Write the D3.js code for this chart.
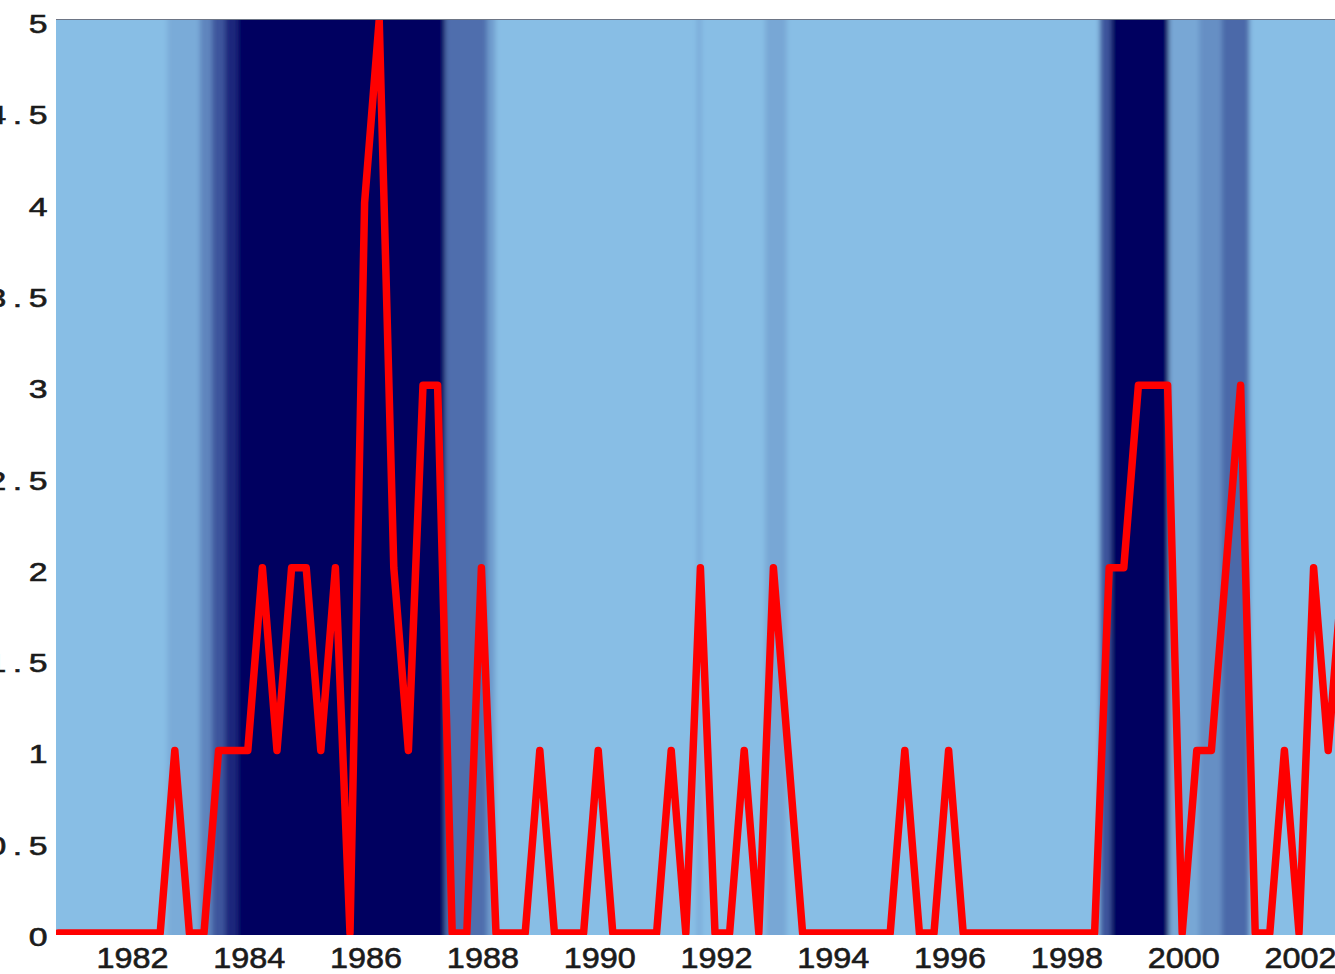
<!DOCTYPE html>
<html>
<head>
<meta charset="utf-8">
<script src="https://cdn.jsdelivr.net/npm/d3@7"></script>
<style>
  html, body { margin: 0; padding: 0; background: #ffffff; }
  svg { display: block; }
</style>
</head>
<body>
<svg id="chart" width="1335" height="974"></svg>
<script>
// ---- Data ----
// quarterly counts starting at the 4th quarter of 1980
const startQuarter = 1980.75;
const counts = [
  0,0,0,0,0,0,0,0,1,0,
  0,1,1,1,2,1,2,2,1,2,
  0,4,5,2,1,3,3,0,0,2,
  0,0,0,1,0,0,0,1,0,0,
  0,0,1,0,2,0,0,1,0,2,
  1,0,0,0,0,0,0,0,1,0,
  0,1,0,0,0,0,0,0,0,0,
  0,0,2,2,3,3,3,0,1,1,
  2,3,0,0,1,0,2,1,2
];
// background regime shading bands (years) and intensity level (0 = light, 1 = dark)
const bandStart = [1982.62, 1983.18, 1983.39, 1983.61, 1983.83, 1987.38, 1988.10, 1991.69, 1992.86, 1998.59, 1998.78, 1999.77, 2000.29, 2000.68];
const bandEnd   = [1983.18, 1983.39, 1983.61, 1983.83, 1987.38, 1988.10, 1988.23, 1991.76, 1993.22, 1998.78, 1999.77, 2000.29, 2000.68, 2001.14];
const bandLevel = [0.10,    0.30,    0.55,    0.80,    1.00,    0.42,    0.18,    0.10,    0.12,    0.55,    1.00,    0.12,    0.25,    0.45];
const xTickYears = [1982, 1984, 1986, 1988, 1990, 1992, 1994, 1996, 1998, 2000, 2002];
const yTickValues = [0, 0.5, 1, 1.5, 2, 2.5, 3, 3.5, 4, 4.5, 5];

// ---- Layout ----
const plot = { left: 56, top: 20, bottom: 935, right: 1345 };
const svg = d3.select("#chart");

const x = d3.scaleLinear().domain([1982, 2002]).range([131, 1299]);
const y = d3.scaleLinear().domain([0, 5]).range([933, 20]);
const lightColor = "#88bee5", darkColor = "#000060";
const color = d3.scaleLinear().domain([0, 1]).range([lightColor, darkColor]).interpolate(d3.interpolateRgb);

const defs = svg.append("defs");
defs.append("clipPath").attr("id", "plotClip")
  .append("rect")
  .attr("x", plot.left).attr("y", plot.top)
  .attr("width", plot.right - plot.left).attr("height", plot.bottom - plot.top);
const blur = defs.append("filter").attr("id", "hblur")
  .attr("x", "-5%").attr("y", "0%").attr("width", "110%").attr("height", "100%");
blur.append("feGaussianBlur").attr("stdDeviation", "2.5 0");

// ---- Background shading ----
const bgOuter = svg.append("g").attr("clip-path", "url(#plotClip)");
const bg = bgOuter.append("g").attr("filter", "url(#hblur)");
bg.append("rect")
  .attr("x", plot.left - 30).attr("y", plot.top)
  .attr("width", plot.right - plot.left + 60).attr("height", plot.bottom - plot.top)
  .attr("fill", lightColor);
bg.selectAll("rect.band")
  .data(bandLevel.map((v, i) => ({ s: bandStart[i], e: bandEnd[i], v })))
  .join("rect")
  .attr("class", "band")
  .attr("x", d => x(d.s))
  .attr("y", plot.top)
  .attr("width", d => x(d.e) - x(d.s) + 0.5)
  .attr("height", plot.bottom - plot.top)
  .attr("fill", d => color(d.v));

// ---- Red line ----
const series = counts.map((v, i) => ({ t: startQuarter + i / 4, v }));
const line = d3.line().x(d => x(d.t)).y(d => y(d.v));
svg.append("g").attr("clip-path", "url(#plotClip)")
  .append("path")
  .datum(series)
  .attr("d", line)
  .attr("fill", "none")
  .attr("stroke", "#ff0000")
  .attr("stroke-width", 7.5)
  .attr("stroke-linejoin", "round")
  .attr("stroke-linecap", "round");

// ---- Axes frame ----
svg.append("line")
  .attr("x1", plot.left).attr("x2", plot.right)
  .attr("y1", plot.top - 0.5).attr("y2", plot.top - 0.5)
  .attr("stroke", "#6d7585").attr("stroke-width", 1.2);

const fontFam = "'Liberation Sans', Arial, Helvetica, sans-serif";

// ---- X tick labels ----
const xAxis = d3.axisBottom(x).tickValues(xTickYears).tickFormat(d3.format("d")).tickSize(0).tickPadding(0);
const gx = svg.append("g").attr("transform", `translate(0,${plot.bottom})`).call(xAxis);
gx.select(".domain").remove();
gx.selectAll("text")
  .attr("y", 0).attr("dy", null)
  .attr("transform", "translate(1,33) scale(1.08,1)")
  .attr("fill", "#1b1b1b")
  .attr("stroke", "#1b1b1b").attr("stroke-width", 0.6)
  .attr("font-family", fontFam)
  .attr("font-size", 30);

// ---- Y tick labels ----
const yAxis = d3.axisLeft(y).tickValues(yTickValues).tickFormat(d => d3.format("")(d)).tickSize(0).tickPadding(0);
const gy = svg.append("g").call(yAxis);
gy.select(".domain").remove();
gy.selectAll(".tick text")
  .attr("x", 0).attr("dy", null).attr("y", 0)
  .attr("text-anchor", "end")
  .attr("fill", "#1b1b1b")
  .attr("stroke", "#1b1b1b").attr("stroke-width", 0.6)
  .attr("font-family", fontFam)
  .attr("font-size", 26)
  .attr("letter-spacing", 5)
  .attr("transform", "translate(54,13) scale(1.3,1)");
gy.selectAll(".tick").attr("transform", d => `translate(0,${y(d)})`);
</script>
</body>
</html>
